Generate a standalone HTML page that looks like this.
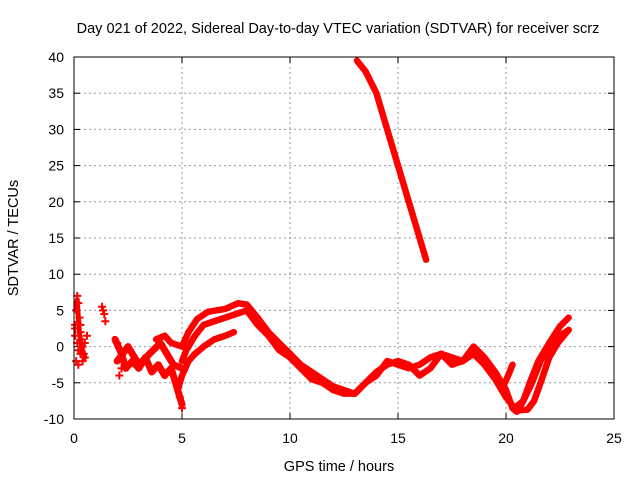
<!DOCTYPE html>
<html><head><meta charset="utf-8"><style>
body{margin:0;background:#fff}
svg{display:block;font-family:"Liberation Sans",sans-serif}
</style></head><body>
<svg id="chart" width="640" height="480" viewBox="0 0 640 480">
<text x="338" y="33" text-anchor="middle" font-size="14.5">Day 021 of 2022, Sidereal Day-to-day VTEC variation (SDTVAR) for receiver scrz</text>
<text x="339" y="471" text-anchor="middle" font-size="14.5">GPS time / hours</text>
<text transform="translate(18,238) rotate(-90)" text-anchor="middle" font-size="14.5">SDTVAR / TECUs</text>
<g id="grid"></g>
<g id="ticks"></g>
<g id="marks"></g>
<rect x="74" y="57" width="540" height="362" fill="none" stroke="#000" stroke-width="1"/>
</svg>
<script>
const xTicks=[0,5,10,15,20,25];
const yTicks=[-10,-5,0,5,10,15,20,25,30,35,40];
const upperH=[3.8,4.2,4.5,5,5.3,5.7,6.2,7,7.6,8,8.5,9,9.5,10,10.5,11,11.5,12,12.5,13,13.5,14,14.5,15,15.5,16,16.5,17,17.5,18,18.5,19,19.5,20,20.3,20.5,20.8,21.1,21.5,22,22.5,22.9];
const upperV=[1,1.5,0.5,0,2,3.8,4.8,5.2,6,5.8,4,2,0.5,-1,-2.5,-3.5,-4.5,-5.5,-6,-6.5,-5,-3.5,-2.5,-2,-2.5,-4,-3,-1,-1.5,-2,0,-1.5,-3.5,-6,-8.5,-9,-7.5,-5,-2,0.5,2.8,4];
const midH=[5,5.2,5.6,6,7,7.5,8,8.5,9,9.5,10,10.5,11,11.5,12,12.5,13,13.5,14,14.5,15,15.5,16,16.5,17,17.5,18,18.5,19,19.5,20,20.4,20.8,21.2,21.6,22,22.5,22.9];
const midV=[-2,-0.5,1.5,3,4,4.5,5,3,1.5,-0.5,-1.5,-3,-4.5,-5,-6,-6.5,-6.5,-5,-4,-2,-2.5,-3,-2.5,-1.5,-1,-2.5,-2,-1,-2.5,-4.5,-7,-8.5,-7.5,-5,-2,0,1.5,2.3];
const lowH=[4.8,5,5.3,5.6,6,6.5,7,7.4];
const lowV=[-6,-4,-2,-1,0,1,1.5,2];
const rightH=[20.6,21,21.3,21.6,22,22.4,22.9];
const rightV=[-8.8,-8.7,-7.5,-5,-1.5,0.5,2.3];
const branchH=[19.8,20.1,20.3];
const branchV=[-6,-4,-2.5];
const steepH=[13.1,13.5,14,14.5,15,15.5,16,16.3];
const steepV=[39.5,38,35,30,25,20,15,12];
const noisyAH=[1.9,2.2,2.4,2.7,3,3.3,3.6,3.9,4.2,4.5,4.8,5];
const noisyAV=[1,-1,-3,-2,-3,-1.5,-3.5,-2.5,-4,-3,-6,-8];
const noisyBH=[2,2.5,3,3.5,4,4.3,4.6,5];
const noisyBV=[-2,0,-2.5,-1,0.5,-1,-2.5,-3];
const earlyH=[0.1,0.15,0.2,0.25,0.3,0.35,0.4,0.5];
const earlyV=[5,6.5,4,2,1,0,-0.5,-1.5];
const scatH=[0.05,0.1,0.15,0.2,0.25,0.3,0.35,0.4,0.45,0.5,0.1,0.2,0.3,0.05,0.15,1.35,1.4,1.45,1.3,0.5,0.6,2,2.1,2.2,4.9,5,0.3,0.4,0.05,0.2];
const scatV=[3,5,7,6,4,2,1,0,-1,-1.5,-2,-2.5,-1,1.5,0.5,5,4.5,3.5,5.5,0.5,1.5,0.5,-4,-3,-7,-8.5,3,-2,2.5,-0.5];
const X=h=>74+h*21.6, Y=v=>419-(v+10)*7.24;
const NS='http://www.w3.org/2000/svg';
const grid=document.getElementById('grid'),ticks=document.getElementById('ticks'),marks=document.getElementById('marks');
function mk(tag,at,parent){const e=document.createElementNS(NS,tag);for(const k in at)e.setAttribute(k,at[k]);parent.appendChild(e);return e;}
xTicks.forEach(t=>{
 if(t>0&&t<25){const g=mk('line',{x1:X(t),x2:X(t),y1:57,y2:419,stroke:'#999','stroke-dasharray':'2,3'},grid);
 
 }
 mk('line',{x1:X(t),x2:X(t),y1:419,y2:413,stroke:'#000'},ticks);
 mk('line',{x1:X(t),x2:X(t),y1:57,y2:63,stroke:'#000'},ticks);
 const l=mk('text',{x:X(t),y:443,'text-anchor':'middle','font-size':'14'},ticks);l.textContent=t;
 
 
});
yTicks.forEach(t=>{
 if(t>-10&&t<40){const g=mk('line',{x1:74,x2:614,y1:Y(t),y2:Y(t),stroke:'#999','stroke-dasharray':'2,3'},grid);
 
 }
 mk('line',{x1:74,x2:80,y1:Y(t),y2:Y(t),stroke:'#000'},ticks);
 mk('line',{x1:614,x2:608,y1:Y(t),y2:Y(t),stroke:'#000'},ticks);
 const l=mk('text',{x:64,y:Y(t)+5,'text-anchor':'end','font-size':'14'},ticks);l.textContent=t;
 
 
});
function line(hs,vs,name,w){
 const p=mk('polyline',{points:hs.map((h,i)=>X(h)+','+Y(vs[i])).join(' '),fill:'none',stroke:'#f00','stroke-width':w||6.5,'stroke-linejoin':'round','stroke-linecap':'round'},marks);
 
 
}
line(upperH,upperV,'upper-trace');
line(midH,midV,'middle-trace');
line(lowH,lowV,'lower-trace');
line(rightH,rightV,'right-trace');
line(branchH,branchV,'branch-trace');
line(steepH,steepV,'steep-trace');
line(noisyAH,noisyAV,'noisy-trace-a',7);
line(noisyBH,noisyBV,'noisy-trace-b',7);
line(earlyH,earlyV,'early-trace',5);
scatH.forEach((h,i)=>{
 const p=mk('path',{d:`M${X(h)-4},${Y(scatV[i])}h8M${X(h)},${Y(scatV[i])-4}v8`,stroke:'#f00','stroke-width':2},marks);
 
 
});
</script>
</body></html>
